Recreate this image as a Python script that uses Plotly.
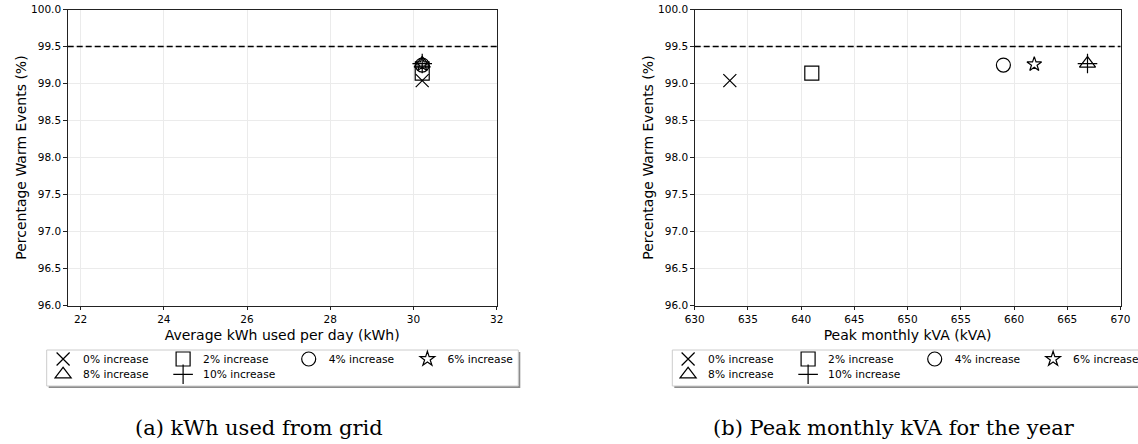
import plotly.graph_objects as go

# ---------------- data ----------------
series = ["0% increase", "2% increase", "4% increase", "6% increase", "8% increase", "10% increase"]
kwh_per_day = [30.21, 30.21, 30.21, 30.21, 30.21, 30.21]
peak_kva = [633.3, 641.0, 659.0, 661.9, 666.9, 666.9]
warm_pct = [99.04, 99.14, 99.25, 99.26, 99.27, 99.27]
threshold = 99.5

kwh_ticks = [22, 24, 26, 28, 30, 32]
kva_ticks = [630, 635, 640, 645, 650, 655, 660, 665, 670]
pct_ticks = [96.0, 96.5, 97.0, 97.5, 98.0, 98.5, 99.0, 99.5, 100.0]

x_label_a = "Average kWh used per day (kWh)"
x_label_b = "Peak monthly kVA (kVA)"
y_label = "Percentage Warm Events (%)"
caption_a = "(a) kWh used from grid"
caption_b = "(b) Peak monthly kVA for the year"

# ---------------- style ----------------
W, H = 1138, 444
symbols = ["x-thin-open", "square-open", "circle-open", "star-open", "triangle-up-open", "cross-thin-open"]
sizes = [13, 14, 14, 11, 14, 14]
FONT = "DejaVu Sans"

# legend entry layout (marker centre x per column, row centre y), in pixels
col_x_a = [61.7, 181.7, 307.3, 426.0]
col_x_b = [686.7, 806.7, 933.3, 1051.7]
row_y = [359, 374.3]
SYMBOL_OFFSET = 18.6


def px(x):
    return x / W


def py(y):
    return 1 - y / H


fig = go.Figure()

legend_layout = {}
for i, name in enumerate(series):
    col, row = i % 4, i // 4
    mk = dict(symbol=symbols[i], size=sizes[i], color="black",
              line=dict(color="black", width=1.2))
    for panel, (xa, ya, cols) in enumerate((("x", "y", col_x_a), ("x2", "y2", col_x_b))):
        leg_id = "legend" if (panel == 0 and i == 0) else f"legend{panel * 6 + i + 1}"
        xs = kwh_per_day if panel == 0 else peak_kva
        fig.add_trace(go.Scatter(x=[xs[i]], y=[warm_pct[i]], mode="markers",
                                 name=name, marker=mk, xaxis=xa, yaxis=ya,
                                 legend=leg_id))
        legend_layout[leg_id] = dict(
            x=px(cols[col] - SYMBOL_OFFSET), y=py(row_y[row]),
            orientation="h", xanchor="left", yanchor="middle",
            bgcolor="rgba(0,0,0,0)", borderwidth=0,
            font=dict(family=FONT, size=10.7, color="black"))

axis_common = dict(
    showline=True, linecolor="#222", linewidth=1, mirror=True,
    ticks="outside", ticklen=3.5, tickcolor="#222", tickwidth=1,
    showgrid=True, gridcolor="#ebebeb", gridwidth=1, zeroline=False,
    tickfont=dict(family=FONT, size=10.5, color="black"),
)

fig.update_layout(
    width=W, height=H,
    margin=dict(l=0, r=0, t=0, b=0, autoexpand=False),
    paper_bgcolor="white", plot_bgcolor="white",
    showlegend=True,
    xaxis=dict(domain=[px(67.7), px(496.7)], range=[21.69, 32], tickvals=kwh_ticks,
               anchor="y",
               title=dict(text=x_label_a, standoff=6, font=dict(family=FONT, size=14, color="black")),
               **axis_common),
    yaxis=dict(domain=[py(305.7), py(9.5)], range=[96, 100], tickvals=pct_ticks,
               tickformat=".1f", anchor="x",
               title=dict(text=y_label, standoff=1, font=dict(family=FONT, size=14, color="black")),
               **axis_common),
    xaxis2=dict(domain=[px(694.7), px(1120.5)], range=[630, 670], tickvals=kva_ticks,
                anchor="y2",
                title=dict(text=x_label_b, standoff=6, font=dict(family=FONT, size=14, color="black")),
                **axis_common),
    yaxis2=dict(domain=[py(305.7), py(9.5)], range=[96, 100], tickvals=pct_ticks,
                tickformat=".1f", anchor="x2",
                title=dict(text=y_label, standoff=1, font=dict(family=FONT, size=14, color="black")),
                **axis_common),
)
fig.update_layout(**legend_layout)

# threshold dashed lines
for xr, yr in (("x domain", "y"), ("x2 domain", "y2")):
    fig.add_shape(type="line", xref=xr, yref=yr, x0=0, x1=1, y0=threshold, y1=threshold,
                  line=dict(color="black", width=1.5, dash="6px,3px"), layer="above")

# legend frames with shadow
for (x0, x1) in ((46.7, 518.3), (672.3, 1160)):
    fig.add_shape(type="rect", xref="paper", yref="paper",
                  x0=px(x0 + 2), x1=px(x1 + 2), y0=py(386 + 2), y1=py(350 + 2),
                  line=dict(width=0), fillcolor="rgba(0,0,0,0.45)", layer="above")
    fig.add_shape(type="rect", xref="paper", yref="paper",
                  x0=px(x0), x1=px(x1), y0=py(386), y1=py(350),
                  line=dict(color="#cccccc", width=1), fillcolor="white", layer="above")

# captions
for text, cx in ((caption_a, 259), (caption_b, 894)):
    fig.add_annotation(text=text, xref="paper", yref="paper", x=px(cx), y=py(428),
                       xanchor="center", yanchor="middle", showarrow=False,
                       font=dict(family="DejaVu Serif", size=21, color="black"))

fig.write_html("out.html", config={"displayModeBar": False},
               post_script="document.body.style.margin='0';document.body.style.overflow='hidden';")
